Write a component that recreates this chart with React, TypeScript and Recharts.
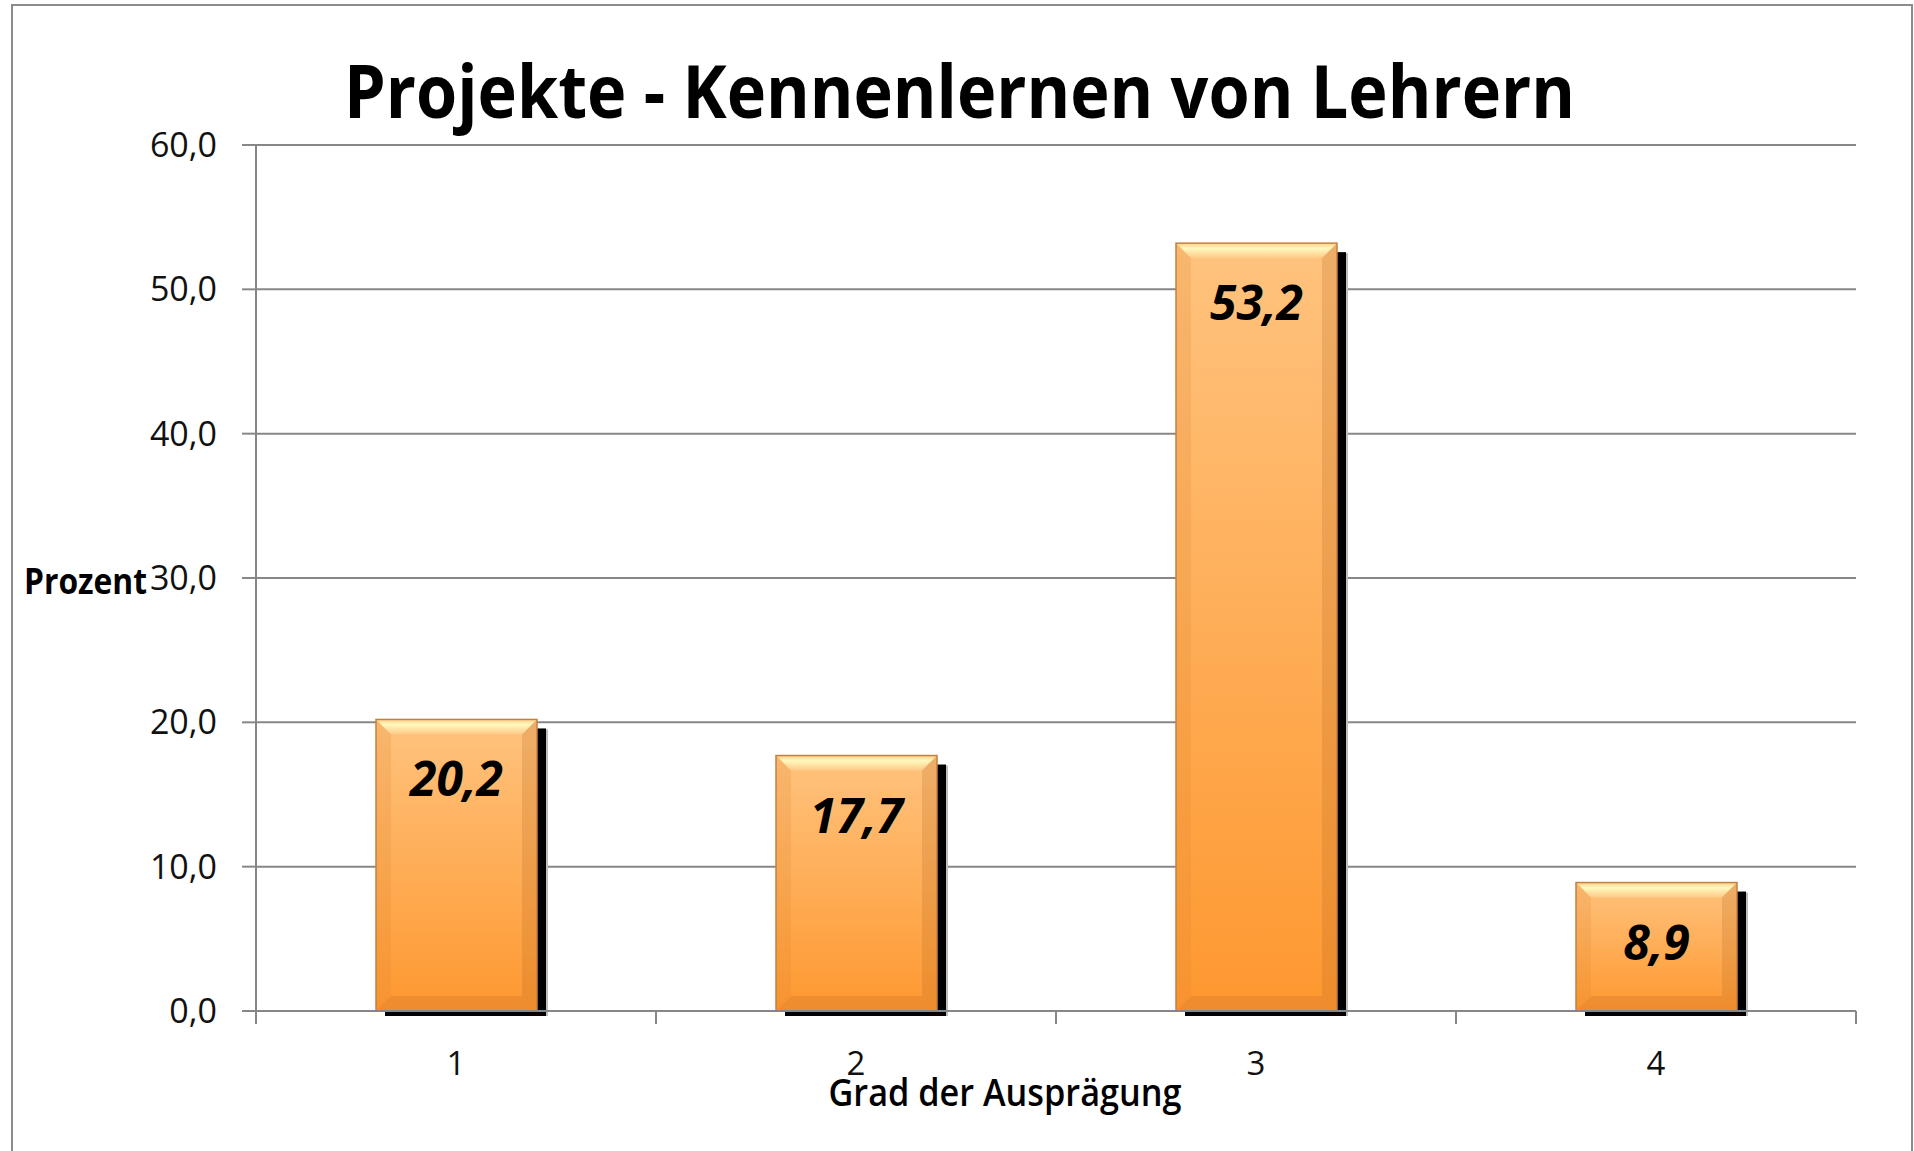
import React from 'react';
import { BarChart, Bar, XAxis, YAxis, CartesianGrid, LabelList, Label } from 'recharts';

const categories = ['1', '2', '3', '4'];
const values = [20.2, 17.7, 53.2, 8.9];
const yTicks = [0, 10, 20, 30, 40, 50, 60];
const chartTitle = 'Projekte - Kennenlernen von Lehrern';
const yTitle = 'Prozent';
const xTitle = 'Grad der Ausprägung';

const data = categories.map((c, i) => ({ grade: c, value: values[i] }));

const fmt = (v: number) => Number(v).toFixed(1).replace('.', ',');

const AXIS = '#878787';

const BevelBar = (props: any) => {
  const { x, y, width: w, height: h, index } = props;
  if (w == null || h == null || h <= 0) return null;
  const b = Math.min(15, h / 3, w / 3);
  const id = `bevbar${index}`;
  return (
    <g>
      <defs>
        <linearGradient id={`${id}-main`} x1="0" y1="0" x2="0" y2="1">
          <stop offset="0%" stopColor="#FFC37E" />
          <stop offset="100%" stopColor="#FE9830" />
        </linearGradient>
        <linearGradient id={`${id}-top`} x1="0" y1="0" x2="0" y2="1">
          <stop offset="0%" stopColor="#FFD08A" />
          <stop offset="35%" stopColor="#FFF8BD" />
          <stop offset="100%" stopColor="#FFC987" />
        </linearGradient>
      </defs>
      <rect x={x + 9} y={y + 9} width={w} height={h - 4} fill="#000" />
      <rect x={x + w + 9} y={y + 10} width={2} height={h - 5} fill="#bdbdbd" />
      <rect x={x} y={y} width={w} height={h} fill={`url(#${id}-main)`} />
      <polygon
        points={`${x},${y} ${x + w},${y} ${x + w - b},${y + b} ${x + b},${y + b}`}
        fill={`url(#${id}-top)`}
      />
      <polygon
        points={`${x},${y} ${x + b},${y + b} ${x + b},${y + h - b} ${x},${y + h}`}
        fill="#D7802F"
        fillOpacity={0.18}
      />
      <polygon
        points={`${x + w},${y} ${x + w - b},${y + b} ${x + w - b},${y + h - b} ${x + w},${y + h}`}
        fill="#B2641F"
        fillOpacity={0.22}
      />
      <polygon
        points={`${x},${y + h} ${x + b},${y + h - b} ${x + w - b},${y + h - b} ${x + w},${y + h}`}
        fill="#C9722A"
        fillOpacity={0.3}
      />
      <rect x={x} y={y} width={w} height={h} fill="none" stroke="#C4803F" strokeWidth={1.5} />
    </g>
  );
};

const ValueLabel = (props: any) => {
  const { x, y, width, value } = props;
  return (
    <text
      x={Number(x) + Number(width) / 2}
      y={Number(y) + 77}
      textAnchor="middle"
      fontFamily="Open Sans"
      fontWeight={700}
      fontStyle="italic"
      fontSize={48}
      fill="#000"
    >
      {fmt(value)}
    </text>
  );
};

const YTitle = (props: any) => {
  const vb = props.viewBox || {};
  return (
    <text
      x={24}
      y={Number(vb.y) + Number(vb.height) / 2 + 16}
      fontFamily="Open Sans"
      fontWeight={700}
      fontSize={35}
      textLength={123}
      lengthAdjust="spacingAndGlyphs"
      fill="#000"
    >
      {yTitle}
    </text>
  );
};

const XTitle = (props: any) => {
  const vb = props.viewBox || {};
  return (
    <text
      x={Number(vb.x) + Number(vb.width) / 2 - 51}
      y={Number(vb.y) + 95}
      textAnchor="middle"
      fontFamily="Open Sans"
      fontWeight={600}
      fontSize={38}
      textLength={353}
      lengthAdjust="spacingAndGlyphs"
      fill="#000"
    >
      {xTitle}
    </text>
  );
};

// Category tick: label centred in the band, tick marks on the band boundaries
const CatTick = (props: any) => {
  const { x, y, payload, index, width, visibleTicksCount } = props;
  const count = visibleTicksCount || categories.length;
  const band = Number(width) / count;
  const left = x - band / 2;
  const right = x + band / 2;
  return (
    <g>
      <line x1={left} y1={y} x2={left} y2={y + 13} stroke={AXIS} strokeWidth={2} />
      {index === count - 1 && (
        <line x1={right} y1={y} x2={right} y2={y + 13} stroke={AXIS} strokeWidth={2} />
      )}
      <text
        x={x}
        y={y + 41}
        dy="0.71em"
        textAnchor="middle"
        fontFamily="Open Sans"
        fontSize={33}
        fill="#111"
      >
        {payload.value}
      </text>
    </g>
  );
};

export default function App() {
  return (
    <div
      style={{
        position: 'absolute',
        left: 0,
        top: 0,
        width: 1914,
        height: 1151,
        background: '#fff',
        overflow: 'hidden',
      }}
    >
      <div
        style={{
          position: 'absolute',
          left: 11,
          top: 4,
          width: 1898,
          height: 1300,
          border: '2px solid #8c8c8c',
        }}
      />
      <BarChart
        width={1914}
        height={1151}
        data={data}
        margin={{ top: 145, right: 58, bottom: 0, left: 0 }}
      >
        <CartesianGrid yAxisId="v" vertical={false} stroke={AXIS} strokeWidth={2} />
        <XAxis
          dataKey="grade"
          height={140}
          tickSize={0}
          tickMargin={0}
          tickLine={false}
          interval={0}
          axisLine={{ stroke: AXIS, strokeWidth: 2 }}
          tick={CatTick}
        >
          <Label content={XTitle} />
        </XAxis>
        <YAxis
          yAxisId="v"
          domain={[0, 60]}
          ticks={yTicks}
          interval={0}
          tickFormatter={fmt}
          width={256}
          tickSize={14}
          tickMargin={25}
          axisLine={{ stroke: AXIS, strokeWidth: 2 }}
          tickLine={{ stroke: AXIS, strokeWidth: 2 }}
          tick={{ fontFamily: 'Open Sans', fontSize: 34, fill: '#111' }}
        >
          <Label content={YTitle} />
        </YAxis>
        <Bar
          yAxisId="v"
          dataKey="value"
          barSize={161}
          shape={BevelBar}
          isAnimationActive={false}
        >
          <LabelList dataKey="value" content={ValueLabel} />
        </Bar>
      </BarChart>
      <svg
        width={1914}
        height={160}
        style={{ position: 'absolute', left: 0, top: 0, pointerEvents: 'none' }}
      >
        <text
          x={959.5}
          y={118}
          textAnchor="middle"
          fontFamily="Open Sans"
          fontWeight={700}
          fontSize={74}
          textLength={1231}
          lengthAdjust="spacingAndGlyphs"
          fill="#000"
        >
          {chartTitle}
        </text>
      </svg>
    </div>
  );
}
